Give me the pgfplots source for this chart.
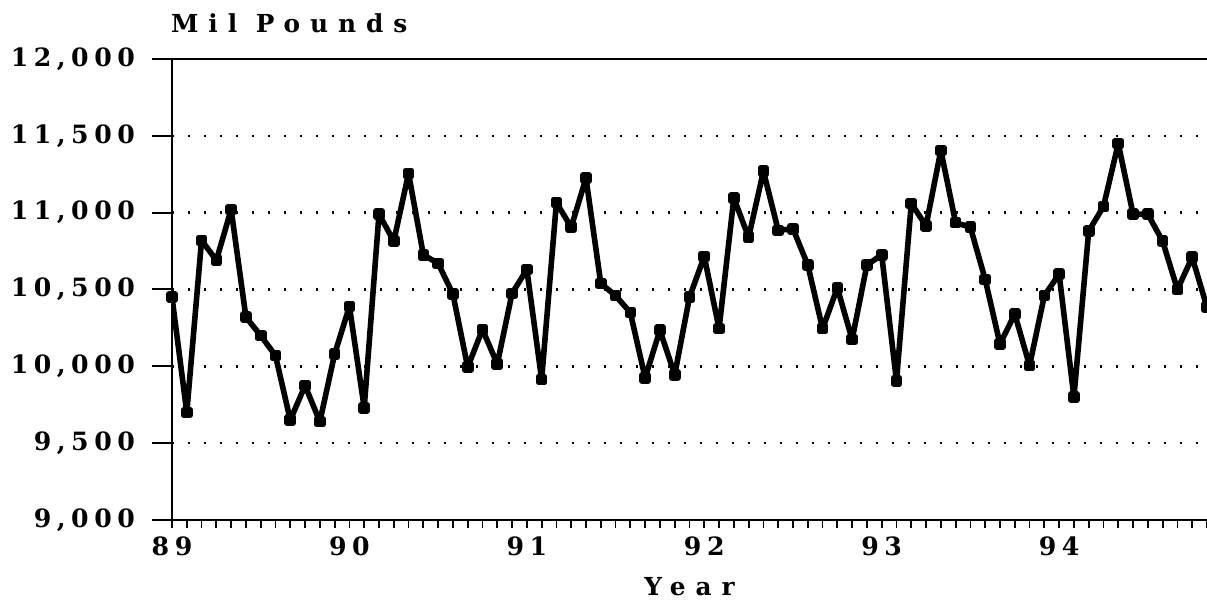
\documentclass[border=0pt]{standalone}
\usepackage{pgfplots}
\pgfplotsset{compat=1.18}
\usepackage{pgfplotstable}
\usepackage{fontspec}
\setmainfont{DejaVu Serif}
\newfontfamily\tickfont{DejaVu Serif Bold}[LetterSpace=22]
\newfontfamily\labfont{DejaVu Serif Bold}[LetterSpace=40]

\pgfplotstableread{
m v
0 10450
1 9700
2 10820
3 10690
4 11020
5 10320
6 10200
7 10070
8 9650
9 9875
10 9640
11 10080
12 10390
13 9730
14 10990
15 10815
16 11255
17 10725
18 10670
19 10470
20 9995
21 10240
22 10015
23 10475
24 10630
25 9915
26 11065
27 10905
28 11225
29 10540
30 10460
31 10350
32 9925
33 10235
34 9945
35 10450
36 10715
37 10245
38 11095
39 10840
40 11270
41 10885
42 10895
43 10660
44 10245
45 10510
46 10175
47 10660
48 10725
49 9905
50 11060
51 10915
52 11405
53 10935
54 10905
55 10565
56 10145
57 10340
58 10005
59 10460
60 10600
61 9800
62 10880
63 11040
64 11450
65 10990
66 10990
67 10815
68 10500
69 10710
70 10385
}\milk

\begin{document}
\begin{tikzpicture}
\begin{axis}[
  name=ax, at={(0,0)}, anchor=south west,
  scale only axis, width=517.5pt, height=230.5pt,
  xmin=0, xmax=70, ymin=9000, ymax=12000,
  axis x line=bottom, axis y line=left,
  axis line style={-, line width=1pt},
  tick align=outside,
  major tick length=10pt,
  xtick={0,1,...,70}, xticklabels={},
  xtick style={/pgfplots/major tick length=4pt, line width=0.9pt, black},
  extra x ticks={0,12,...,60},
  extra x tick labels={89,90,91,92,93,94},
  extra x tick style={xtick style={/pgfplots/major tick length=4pt, line width=0.9pt, black}},
  ytick={9000,9500,...,12000},
  yticklabels={{9,000},{9,500},{10,000},{10,500},{11,000},{11,500},{12,000}},
  scaled y ticks=false,
  ytick style={line width=1pt, black},
  ymajorgrids,
  y grid style={black, line width=1.3pt, dash pattern=on 1.2pt off 6.8pt},
  tick label style={font=\tickfont\fontsize{12.6}{14}\selectfont},
  yticklabel style={xshift=-5pt},
  xticklabel style={yshift=5pt},
  xlabel={Year},
  xlabel style={font=\labfont\fontsize{12.4}{14}\selectfont, at={(rel axis cs:0.5,0)}, anchor=base, yshift=-38pt},
  title={Mil Pounds},
  title style={font=\labfont\fontsize{12.4}{14}\selectfont, at={(rel axis cs:0,1)}, anchor=base west, yshift=7pt, xshift=-4pt},
  after end axis/.code={\draw[line width=1pt] (rel axis cs:0,1) -- (rel axis cs:1,1);},
]
\addplot[black, line width=2.8pt, line join=round, mark=square*, mark size=1.5pt] table[x=m, y=v] {\milk};
\end{axis}
\pgfresetboundingbox
\path[use as bounding box] (-86pt,-42pt) rectangle (517.5pt,260pt);
\end{tikzpicture}
\end{document}
